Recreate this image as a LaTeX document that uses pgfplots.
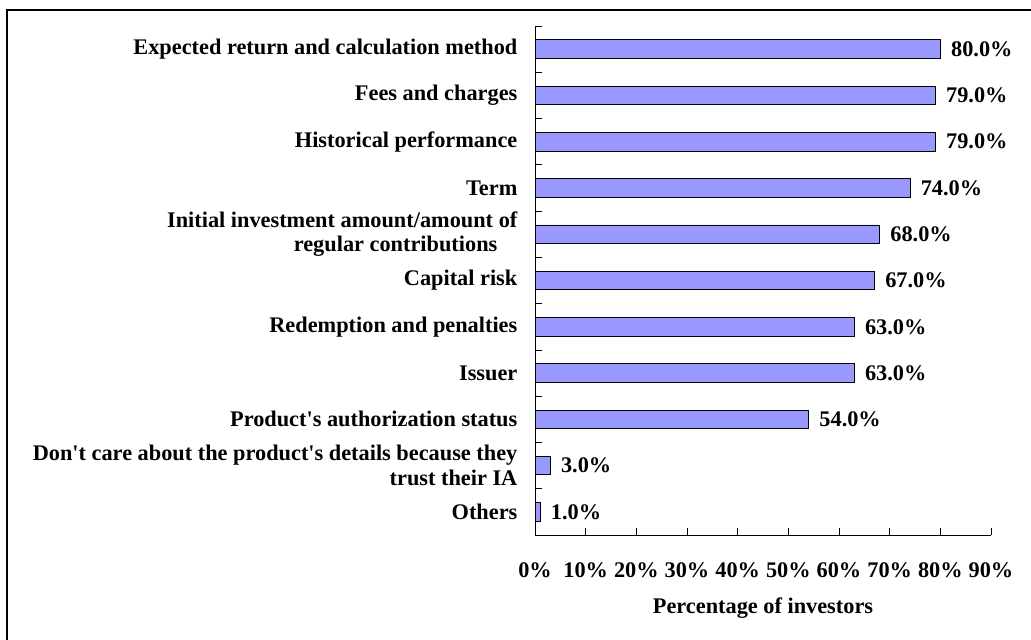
\documentclass[border=0pt]{standalone}
\usepackage{fontspec}
\setmainfont{Liberation Serif}
\usepackage{pgfplots}
\pgfplotsset{compat=1.18}
\definecolor{barblue}{HTML}{9999FF}
\begin{document}
\fontsize{22.4}{24.5}\selectfont\bfseries
\begin{tikzpicture}
\useasboundingbox (0,0) rectangle (1031bp,640bp);
\draw[line width=2bp] (7bp,0) -- (7bp,630bp) -- (1031bp,630bp);
\begin{axis}[
    at={(535bp,105bp)}, anchor=south west,
    scale only axis,
    width=456bp, height=509bp,
    xbar, bar width=18.5bp,
    xmin=0, xmax=90,
    ymin=-0.5, ymax=10.5,
    axis lines*=left,
    axis line style={line width=0.8bp},
    tick align=inside,
    major tick length=7bp,
    tick style={line width=0.8bp, black},
    /pgf/number format/assume math mode=true,
    xtick={0,10,...,90},
    xticklabels={0\%,10\%,20\%,30\%,40\%,50\%,60\%,70\%,80\%,90\%},
    xticklabel style={yshift=-20bp},
    xlabel={Percentage of investors},
    xlabel style={at={(axis description cs:0.5,0)}, anchor=center, yshift=-73bp},
    ytick={-0.5,0.5,1.5,2.5,3.5,4.5,5.5,6.5,7.5,8.5,9.5,10.5},
    yticklabels={},
    extra y ticks={0,1,2,3,4,5,6,7,8,9,10},
    extra y tick style={major tick length=0pt,
        yticklabel style={align=right, xshift=-10bp}},
    extra y tick labels={
        Others,
        {Don\textquotesingle t care about the product\textquotesingle s details because they\\trust their IA},
        {Product\textquotesingle s authorization status},
        Issuer,
        {Redemption and penalties},
        {Capital risk},
        {Initial investment amount/amount of\\regular contributions\hspace*{20bp}},
        Term,
        {Historical performance},
        {Fees and charges},
        {Expected return and calculation method}
    },
    nodes near coords={\pgfmathprintnumber[fixed,fixed zerofill,precision=1]{\pgfplotspointmeta}\%},
    nodes near coords style={anchor=west, xshift=3bp},
]
\addplot[fill=barblue, draw=black, line width=0.8bp] coordinates {
    (1,0) (3,1) (54,2) (63,3) (63,4) (67,5) (68,6) (74,7) (79,8) (79,9) (80,10)
};
\end{axis}
\end{tikzpicture}
\end{document}
